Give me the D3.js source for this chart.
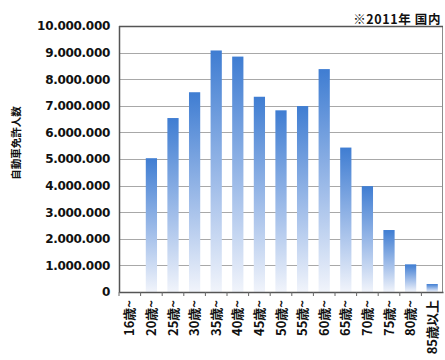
<!DOCTYPE html>
<html>
<head>
<meta charset="utf-8">
<script src="https://cdn.jsdelivr.net/npm/d3@7"></script>
<style>
  html, body { margin: 0; padding: 0; background: #fff; }
  svg { display: block; }
  text { font-family: "DejaVu Sans", "Noto Sans CJK JP", sans-serif; font-weight: bold; fill: #111; }
  .jp { font-family: "Noto Sans CJK JP", sans-serif; }
</style>
</head>
<body>
<script>
// 年齢層別の運転免許保有者数（2011年）
const ageGroups = ["16歳~", "20歳~", "25歳~", "30歳~", "35歳~", "40歳~", "45歳~", "50歳~",
                   "55歳~", "60歳~", "65歳~", "70歳~", "75歳~", "80歳~", "85歳以上"];
const holders = [0, 5030000, 6540000, 7510000, 9080000, 8850000, 7340000, 6830000,
                 6990000, 8380000, 5430000, 3980000, 2330000, 1040000, 300000];
const yTicks = [0, 1000000, 2000000, 3000000, 4000000, 5000000, 6000000, 7000000, 8000000, 9000000, 10000000];
const yTitle = "自動車免許人数";
const note = "※2011年 国内";

const W = 445, H = 360;
const m = { left: 119, right: 2, top: 26, bottom: 68 };

const svg = d3.select("body").append("svg").attr("width", W).attr("height", H);

const x = d3.scaleBand().domain(ageGroups).range([m.left, W - m.right]).paddingInner(0.48).paddingOuter(0.24);
const y = d3.scaleLinear().domain([0, 10000000]).range([H - m.bottom, m.top]);

// バーのグラデーション（上が濃い青、下が白に近い）
const grad = svg.append("defs").append("linearGradient")
  .attr("id", "barGrad").attr("x1", 0).attr("y1", 0).attr("x2", 0).attr("y2", 1);
grad.append("stop").attr("offset", "0%").attr("stop-color", "#3f7dd2");
grad.append("stop").attr("offset", "55%").attr("stop-color", "#a0bde9");
grad.append("stop").attr("offset", "100%").attr("stop-color", "#f1f4fb");

// 目盛線
const fmt = v => d3.format(",")(v).replace(/,/g, ".");
svg.append("g").selectAll("line").data(yTicks.slice(1, -1)).join("line")
  .attr("x1", m.left).attr("x2", W - m.right)
  .attr("y1", d => Math.round(y(d)) + 0.5).attr("y2", d => Math.round(y(d)) + 0.5)
  .attr("stroke", "#a8a8a8").attr("stroke-width", 1.2);

// 枠
svg.append("rect")
  .attr("x", m.left + 0.5).attr("y", m.top + 0.5)
  .attr("width", W - m.right - m.left - 1).attr("height", H - m.bottom - m.top)
  .attr("fill", "none").attr("stroke", "#8c8c8c").attr("stroke-width", 1);
svg.append("line").attr("x1", m.left).attr("x2", W - m.right)
  .attr("y1", m.top + 0.5).attr("y2", m.top + 0.5).attr("stroke", "#555").attr("stroke-width", 1.5);
svg.append("line").attr("x1", m.left + 0.5).attr("x2", m.left + 0.5)
  .attr("y1", m.top).attr("y2", H - m.bottom).attr("stroke", "#555").attr("stroke-width", 1.5);

// バー
svg.append("g").selectAll("rect").data(ageGroups).join("rect")
  .attr("x", d => x(d))
  .attr("width", x.bandwidth())
  .attr("y", (d, i) => y(holders[i]))
  .attr("height", (d, i) => y(0) - y(holders[i]))
  .attr("fill", "url(#barGrad)");

// Y軸
const yAxis = svg.append("g").attr("transform", `translate(${m.left},0)`)
  .call(d3.axisLeft(y).tickValues(yTicks).tickFormat(fmt).tickSize(0).tickPadding(9));
yAxis.select(".domain").remove();
yAxis.selectAll("text").attr("font-size", 12).attr("font-weight", "bold")
  .attr("font-family", "DejaVu Sans").attr("letter-spacing", "-0.3px").attr("fill", "#111");

// X軸
const xAxis = svg.append("g").attr("transform", `translate(0,${H - m.bottom})`)
  .call(d3.axisBottom(x).tickSize(0).tickPadding(0));
xAxis.select(".domain").attr("stroke", "#555").attr("stroke-width", 1.5);
xAxis.selectAll(".tick").append("line")
  .attr("x1", -x.step() / 2).attr("x2", -x.step() / 2).attr("y1", 0).attr("y2", 4)
  .attr("stroke", "#666");
xAxis.selectAll("text")
  .attr("class", "jp")
  .attr("font-size", 13).attr("font-weight", "bold").attr("fill", "#111")
  .attr("text-anchor", "end")
  .attr("transform", "rotate(-90)")
  .attr("x", -8).attr("y", 0).attr("dy", "0.35em");

// 軸タイトル
svg.append("text").attr("class", "jp")
  .attr("transform", "translate(16,143) rotate(-90)")
  .attr("text-anchor", "middle").attr("dy", "0.35em")
  .attr("font-size", 10.5).attr("font-weight", "bold")
  .text(yTitle);

// 注記
svg.append("text").attr("class", "jp")
  .attr("x", 441).attr("y", 24).attr("text-anchor", "end")
  .attr("font-size", 12.5).attr("font-weight", "bold").attr("letter-spacing", "0.6px")
  .text(note);
</script>
</body>
</html>
